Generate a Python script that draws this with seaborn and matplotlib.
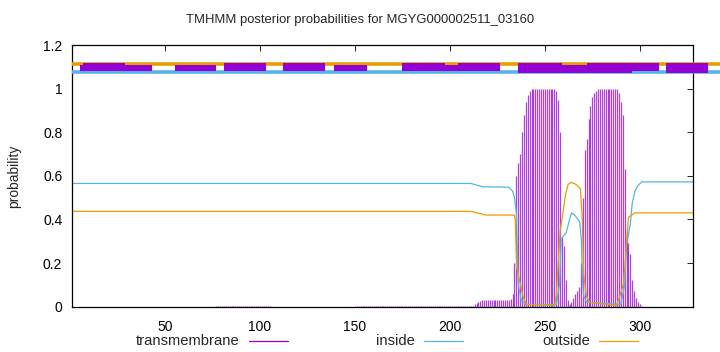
import numpy as np
import pandas as pd
import seaborn as sns
import matplotlib.pyplot as plt
from matplotlib.lines import Line2D
from matplotlib.patches import Rectangle

# --- data ---
seq_len = 328
residues = list(range(1, seq_len + 1))

# transmembrane posterior per residue (impulses)
tm_core = [0.005, 0.01, 0.015, 0.02, 0.025] + [0.03] * 14 + \
    [0.03, 0.035, 0.06, 0.2, 0.6, 0.66, 0.7, 0.8, 0.88, 0.94, 0.97, 0.99] + \
    [1.0] * 13 + \
    [0.99, 0.95, 0.8, 0.32, 0.28, 0.12, 0.03, 0.01, 0.02, 0.04, 0.06,
     0.07, 0.09, 0.2, 0.5, 0.72, 0.77, 0.86, 0.92, 0.96, 0.98, 0.99] + \
    [1.0] * 11 + \
    [0.98, 0.94, 0.88, 0.63, 0.35, 0.29, 0.24, 0.12, 0.07, 0.04, 0.02, 0.01, 0.005]
tm_prob = [0.0] * 76 + [0.003] * 29 + [0.0] * 44 + [0.003] * 62 + tm_core + [0.0] * 27

inside_x = [1, 211, 217, 231, 233, 234, 235, 235.5, 236, 237.5,
            240, 256, 257.7, 258.6, 261.3, 263, 264, 265.7, 268.3, 269.2,
            269.7, 270.4, 272, 290, 292, 293, 295, 296, 297.5, 299,
            301, 328]
inside_y = [0.565, 0.565, 0.55, 0.548, 0.53, 0.50, 0.43, 0.25, 0.10, 0.03,
            0.01, 0.01, 0.10, 0.31, 0.34, 0.40, 0.43, 0.42, 0.39, 0.31,
            0.15, 0.05, 0.02, 0.01, 0.10, 0.28, 0.38, 0.475, 0.53, 0.555,
            0.572, 0.572]

outside_x = [1, 211, 219, 233.9, 234.4, 235.2, 235.9, 236.9, 238.4, 240.1,
             255.2, 256, 256.9, 258.1, 259.5, 261, 262.2, 263.9, 266.6, 268.7,
             269.7, 270.4, 271.8, 273.4, 287.7, 289.5, 291.3, 292.1, 293.5, 294,
             295.8, 297.4, 328]
outside_y = [0.437, 0.437, 0.42, 0.42, 0.40, 0.18, 0.15, 0.11, 0.05, 0.01,
             0.005, 0.05, 0.18, 0.35, 0.43, 0.52, 0.56, 0.57, 0.56, 0.54,
             0.40, 0.15, 0.05, 0.02, 0.005, 0.05, 0.10, 0.18, 0.35, 0.41,
             0.42, 0.43, 0.43]

# topology strip boxes above the plot (start, end, bottom, top)
box_start = [5, 7, 55, 81, 112, 139, 175, 197.5, 204.5, 236, 259, 272, 296, 314]
box_end = [43, 29, 77, 103, 134, 156.5, 197.5, 204.5, 226.5, 259, 272, 296, 310, 336]
box_bottom = [1.083, 1.083, 1.083, 1.083, 1.083, 1.083, 1.083, 1.083, 1.083,
              1.072, 1.072, 1.072, 1.083, 1.072]
box_top = [1.107, 1.118, 1.107, 1.118, 1.118, 1.107, 1.118, 1.107, 1.118,
           1.118, 1.107, 1.118, 1.118, 1.118]
strip_end = 342

PURPLE = '#9400D3'
BLUE = '#56B4E9'
ORANGE = '#E69F00'

sns.set_style('white')
plt.rcParams['font.family'] = ['Liberation Sans', 'DejaVu Sans']

fig = plt.figure(figsize=(7.2, 3.52), dpi=100)
ax = fig.add_axes([0.1, 0.129, 0.8625, 0.743])

# impulses
ax.vlines(residues, 0, tm_prob, color=PURPLE, linewidth=0.9, alpha=0.75)

lines_df = pd.concat([
    pd.DataFrame({'pos': inside_x, 'prob': inside_y, 'state': 'inside'}),
    pd.DataFrame({'pos': outside_x, 'prob': outside_y, 'state': 'outside'}),
])
sns.lineplot(data=lines_df, x='pos', y='prob', hue='state', sort=False,
             palette={'inside': BLUE, 'outside': ORANGE}, linewidth=0.9,
             legend=False, ax=ax, estimator=None)

# topology strip
ax.plot([1, strip_end], [1.115, 1.115], color=ORANGE, linewidth=2.6,
        solid_capstyle='butt', clip_on=False, zorder=3)
ax.plot([1, strip_end], [1.075, 1.075], color=BLUE, linewidth=2.6,
        solid_capstyle='butt', clip_on=False, zorder=3)
for s, e, b, t in zip(box_start, box_end, box_bottom, box_top):
    ax.add_patch(Rectangle((s, b), e - s, t - b, facecolor=PURPLE,
                           edgecolor='none', clip_on=False, zorder=4))

ax.set_xlim(1, seq_len)
ax.set_ylim(0, 1.2)
ax.set_xticks([50, 100, 150, 200, 250, 300])
ax.set_yticks([0, 0.2, 0.4, 0.6, 0.8, 1.0, 1.2])
ax.set_yticklabels(['0', '0.2', '0.4', '0.6', '0.8', '1', '1.2'])
ax.tick_params(direction='in', length=4, width=0.6, top=True, right=True,
               labelsize=10, colors='black')
ax.tick_params(axis='x', pad=10)
ax.tick_params(axis='y', pad=7)
for sp in ax.spines.values():
    sp.set_color('black')
    sp.set_linewidth(0.9)
ax.set_xlabel('')
ax.set_ylabel('probability', fontsize=10, labelpad=16)
fig.text(0.5, 1 - 20 / 352, 'TMHMM posterior probabilities for MGYG000002511_03160',
         ha='center', va='center', fontsize=9.4)

# gnuplot-style key below the plot: text then sample line
key_items = [('transmembrane', PURPLE, 240, 249, 288),
             ('inside', BLUE, 415, 424, 463),
             ('outside', ORANGE, 590, 599, 638)]
ky = 1 - 341 / 352
for label, col, tx, x0, x1 in key_items:
    fig.text(tx / 720, ky, label, ha='right', va='center', fontsize=10.6)
    fig.add_artist(Line2D([x0 / 720, x1 / 720], [ky, ky], color=col,
                          linewidth=0.9, transform=fig.transFigure))

fig.savefig('out.png', dpi=100)
